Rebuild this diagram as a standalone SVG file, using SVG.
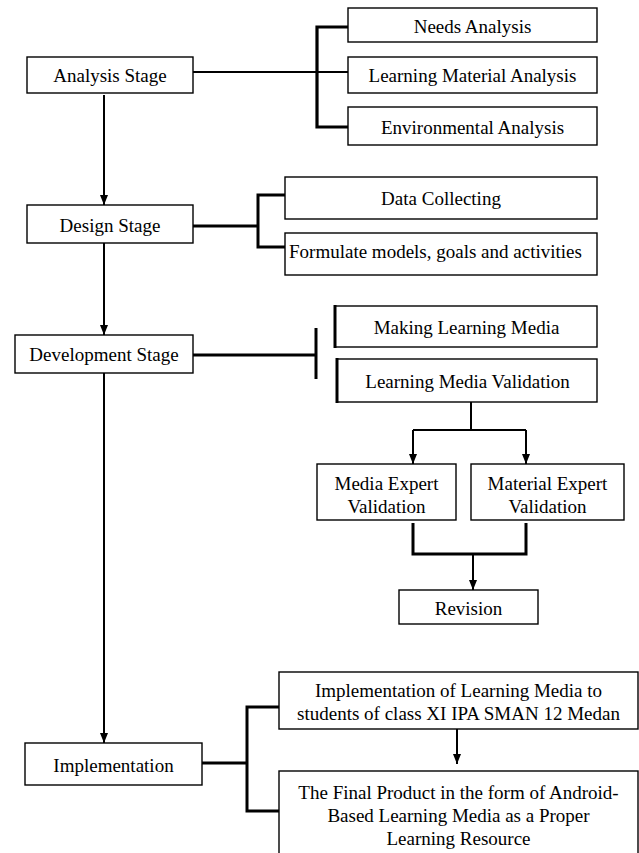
<svg xmlns="http://www.w3.org/2000/svg" width="639" height="853" viewBox="0 0 639 853">
<style>
.box{fill:#fff;stroke:#000;stroke-width:1.4}
.t{font-family:"Liberation Serif","Times New Roman",serif;font-size:19px;fill:#000;text-anchor:middle;dominant-baseline:central}
.c{fill:none;stroke:#000;stroke-width:2}
.b{fill:none;stroke:#000;stroke-width:3}
.ca{fill:none;stroke:#000;stroke-width:2;marker-end:url(#ah)}
</style>
<defs>
<marker id="ah" viewBox="0 0 10 8" refX="10" refY="4" markerWidth="10" markerHeight="8" orient="auto" markerUnits="userSpaceOnUse">
<path d="M0,0 L10,4 L0,8 z" fill="#000"/>
</marker>
</defs>
<rect width="639" height="853" fill="#fff"/>
<g id="connectors">
<path class="ca" d="M104,95 V205"/>
<path class="ca" d="M104,243 V335"/>
<path class="ca" d="M104,373 V743"/>
<path class="c" d="M193,72 H348"/>
<path class="b" d="M348,27 H317 V127 H348" style="stroke-width:3.2"/>
<path class="b" d="M193,226 H258"/>
<path class="b" d="M285,195 H258 V247 H285"/>
<path class="b" d="M193,355 H316"/>
<path class="b" d="M316,328 V379"/>
<path class="c" d="M471,402 V430"/>
<path class="c" d="M413,430 H526"/>
<path class="ca" d="M413,430 V464"/>
<path class="ca" d="M526,430 V464"/>
<path class="b" d="M413,523 V554 H526 V523"/>
<path class="ca" d="M473,554 V590"/>
<path class="b" d="M202,763 H247"/>
<path class="b" d="M279,707 H247 V811 H279"/>
<path class="ca" d="M457,729 V764"/>
</g>
<g id="analysis"><rect class="box" x="27" y="57" width="166" height="36"/><text class="t" x="110" y="75">Analysis Stage</text></g>
<g id="needs"><rect class="box" x="348" y="8" width="249" height="34"/><text class="t" x="472.5" y="26">Needs Analysis</text></g>
<g id="lma"><rect class="box" x="348" y="57" width="249" height="36"/><text class="t" x="472.5" y="75">Learning Material Analysis</text></g>
<g id="env"><rect class="box" x="348" y="107" width="249" height="38"/><text class="t" x="472.5" y="127">Environmental Analysis</text></g>
<g id="design"><rect class="box" x="27" y="205" width="166" height="38"/><text class="t" x="110" y="225">Design Stage</text></g>
<g id="data"><rect class="box" x="285" y="177" width="312" height="42"/><text class="t" x="441" y="198">Data Collecting</text></g>
<g id="formulate"><rect class="box" x="285" y="233" width="312" height="42"/><text class="t" x="289" y="251" style="text-anchor:start">Formulate models, goals and activities</text></g>
<g id="development"><rect class="box" x="15" y="335" width="178" height="38"/><text class="t" x="104" y="354">Development Stage</text></g>
<g id="making"><rect class="box" x="335" y="306" width="262" height="41"/><path class="b" d="M335,305 V348"/><text class="t" x="466.5" y="327">Making Learning Media</text></g>
<g id="lmv"><rect class="box" x="337" y="359" width="260" height="43"/><path class="b" d="M337,358 V403"/><text class="t" x="467.5" y="381">Learning Media Validation</text></g>
<g id="media"><rect class="box" x="317" y="464" width="139" height="56"/><text class="t" x="386.5" y="483">Media Expert</text><text class="t" x="386.5" y="506">Validation</text></g>
<g id="material"><rect class="box" x="471" y="464" width="153" height="56"/><text class="t" x="547.5" y="483">Material Expert</text><text class="t" x="547.5" y="506">Validation</text></g>
<g id="revision"><rect class="box" x="399" y="590" width="139" height="34"/><text class="t" x="468.5" y="608">Revision</text></g>
<g id="implementation"><rect class="box" x="25" y="743" width="177" height="42"/><text class="t" x="113.5" y="765">Implementation</text></g>
<g id="impl-lm"><rect class="box" x="279" y="672" width="359" height="57"/><text class="t" x="458.5" y="690">Implementation of Learning Media to</text><text class="t" x="458.5" y="713">students of class XI IPA SMAN 12 Medan</text></g>
<g id="final"><rect class="box" x="279" y="771" width="359" height="95"/><text class="t" x="458.5" y="792">The Final Product in the form of Android-</text><text class="t" x="458.5" y="815">Based Learning Media as a Proper</text><text class="t" x="458.5" y="838">Learning Resource</text></g>
</svg>
